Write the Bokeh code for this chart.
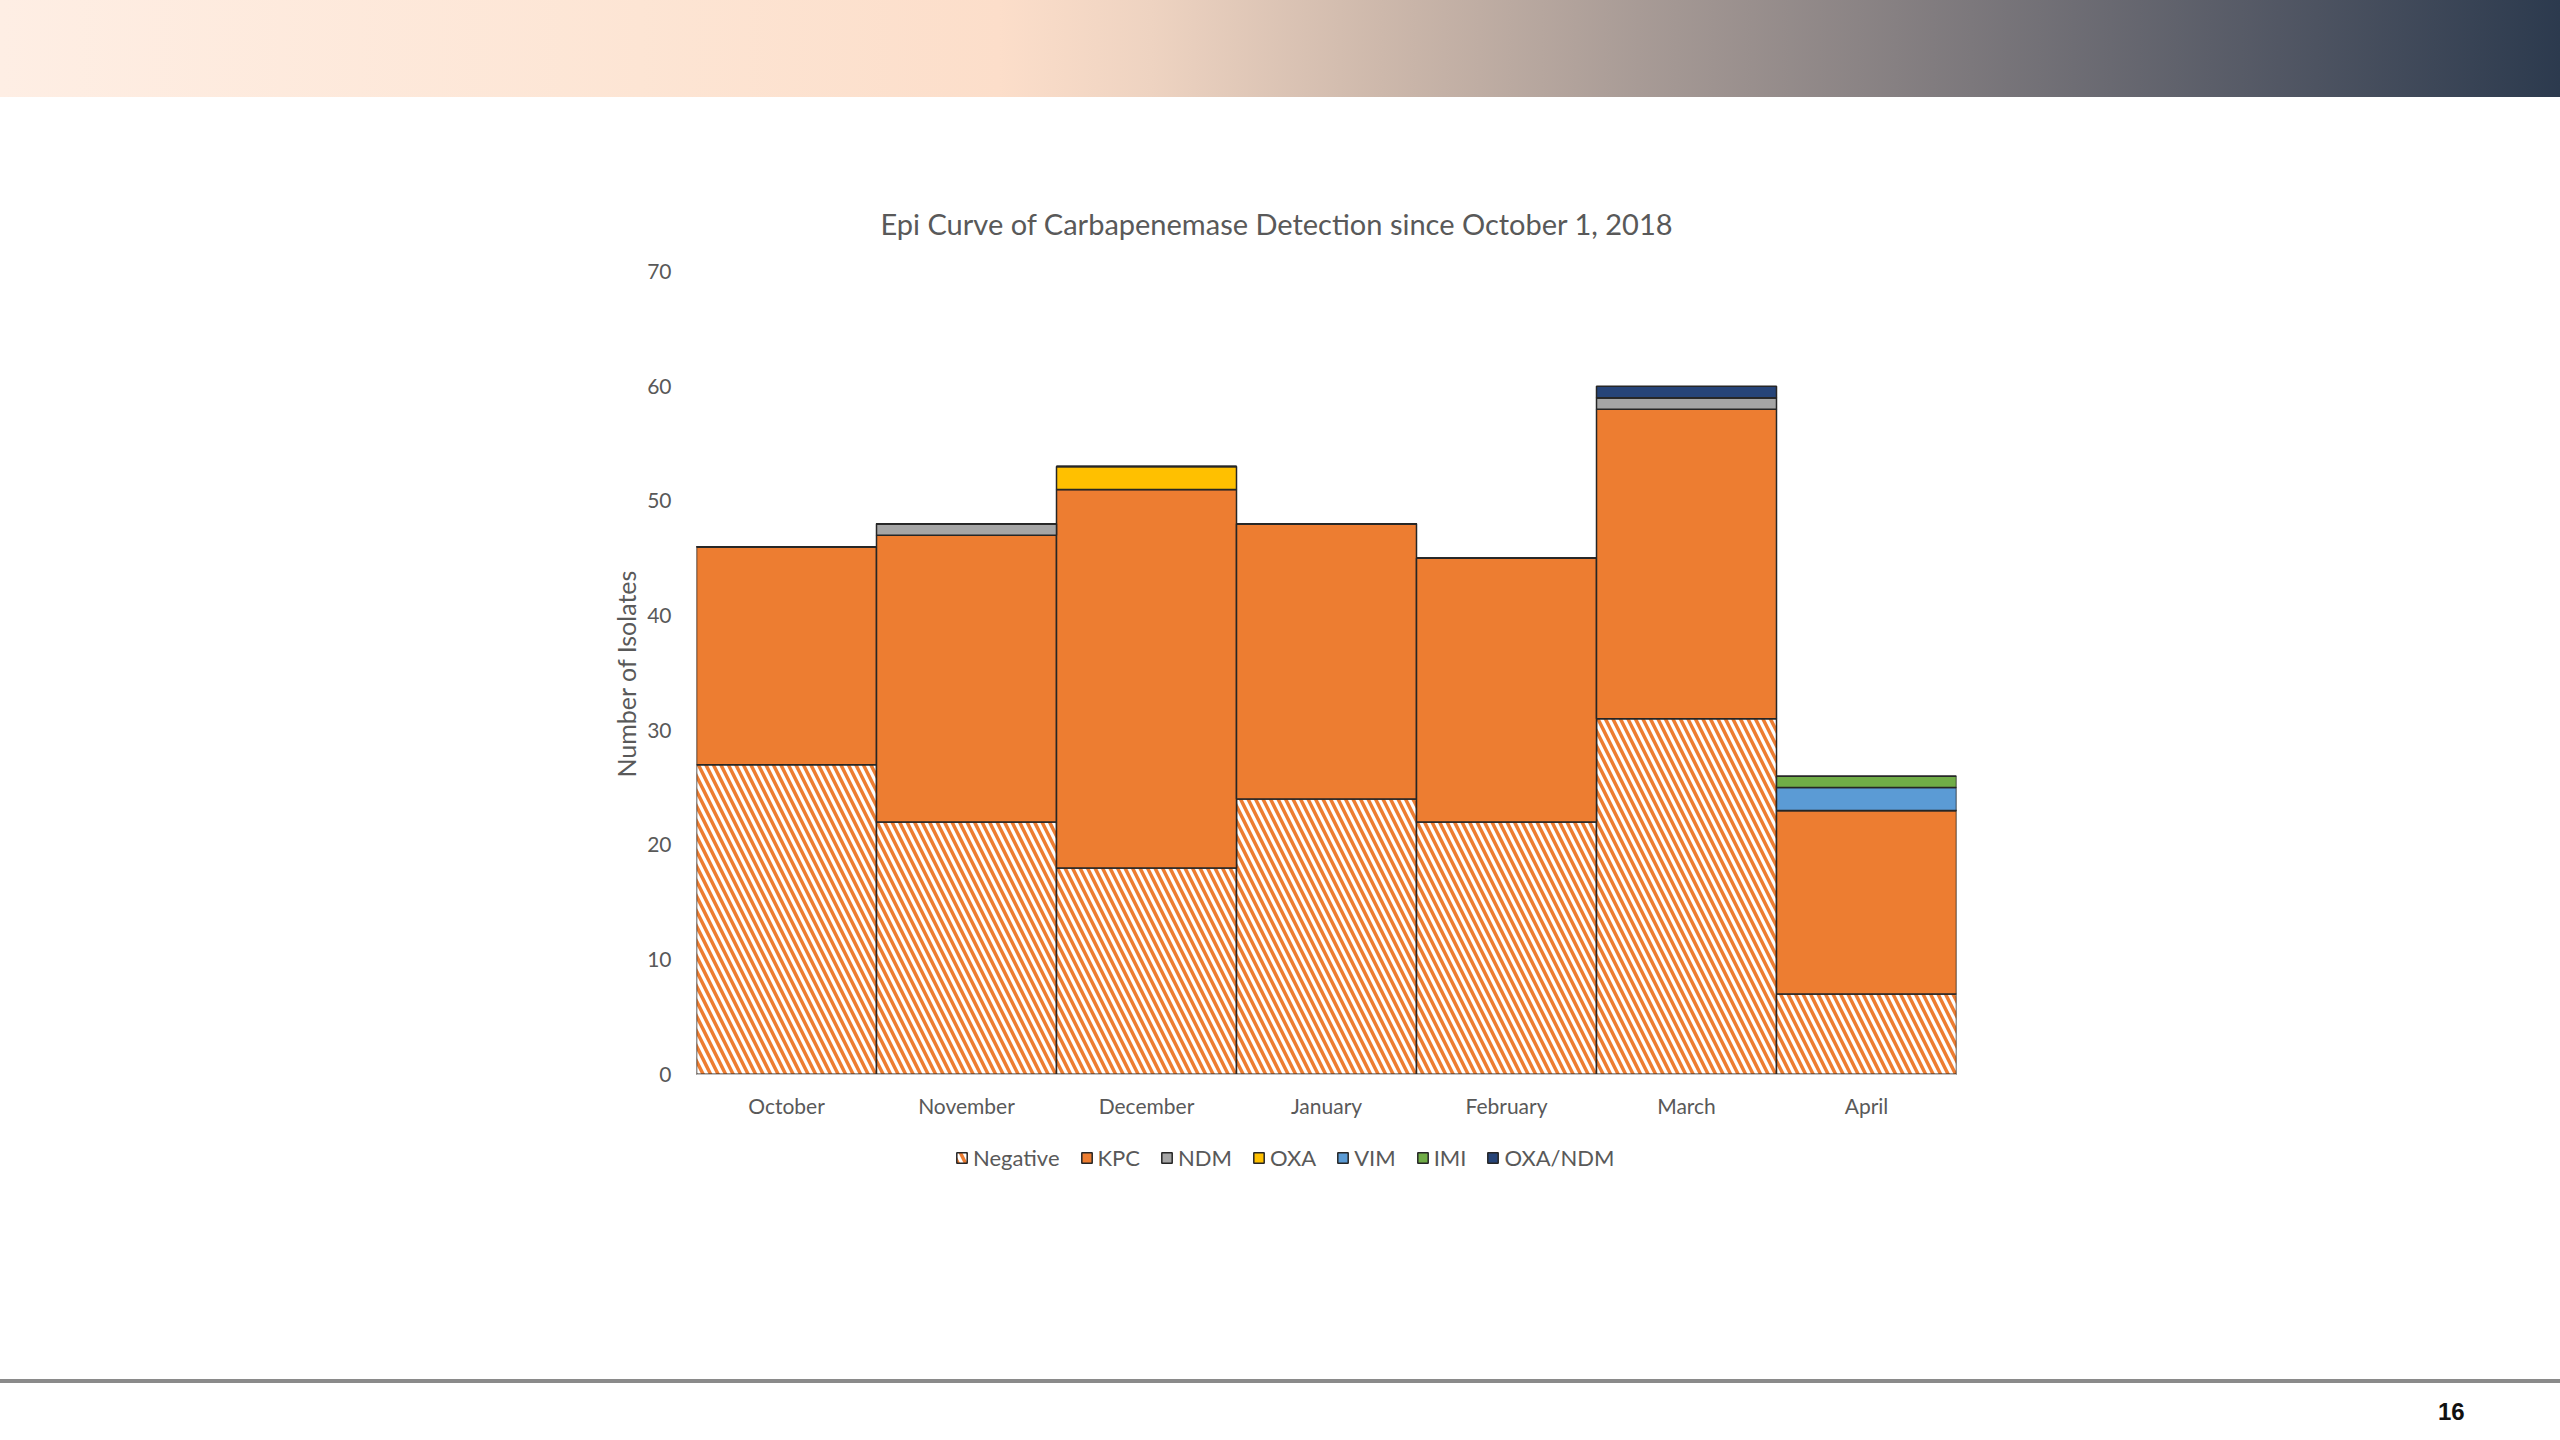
from bokeh.plotting import figure
from bokeh.models import Range1d, FactorRange, ColumnDataSource, FixedTicker, Div, Title
from bokeh.layouts import column
from bokeh.embed import file_html
from bokeh.resources import INLINE

# ---------------- data ----------------
months = ["October", "November", "December", "January", "February", "March", "April"]
negative = [27, 22, 18, 24, 22, 31, 7]
kpc = [19, 25, 33, 24, 23, 27, 16]
ndm = [0, 1, 0, 0, 0, 1, 0]
oxa = [0, 0, 2, 0, 0, 0, 0]
vim = [0, 0, 0, 0, 0, 0, 2]
imi = [0, 0, 0, 0, 0, 0, 1]
oxa_ndm = [0, 0, 0, 0, 0, 1, 0]
series_keys = ["negative", "kpc", "ndm", "oxa", "vim", "imi", "oxa_ndm"]
series_labels = ["Negative", "KPC", "NDM", "OXA", "VIM", "IMI", "OXA/NDM"]
y_ticks = [0, 10, 20, 30, 40, 50, 60, 70]
title_text = "Epi Curve of Carbapenemase Detection since October 1, 2018"
y_label = "Number of Isolates"
page_number = "16"

# ---------------- styles ----------------
FONT = "Lato"
TXT = "#595959"
fill_colors = ["white", "#ED7D31", "#A5A5A5", "#FFC000", "#5B9BD5", "#70AD47", "#264478"]
hatches = ["left_diagonal_line", " ", " ", " ", " ", " ", " "]

W = 2560
BANNER_H = 97
CHART_H = 1273
FOOT_H = 70

# ---------------- banner ----------------
gradient = ("linear-gradient(to right, #FEEEE4 0%, #FDE5D4 25%, #FCDECA 39%, #EED3C1 45%, "
            "#CDB8AB 54%, #A89B96 64%, #7C787C 77%, #525764 89%, #2C3A4E 100%)")
banner = Div(text="", width=W, height=BANNER_H,
             styles={"background": gradient, "margin": "0", "padding": "0"})

# ---------------- chart ----------------
src = ColumnDataSource(dict(month=months, negative=negative, kpc=kpc, ndm=ndm, oxa=oxa,
                            vim=vim, imi=imi, oxa_ndm=oxa_ndm))

# the frame extends below zero so that the legend can sit inside it
p = figure(width=W, height=CHART_H, x_range=FactorRange(*months, range_padding=0),
           y_range=Range1d(-11, 70), output_backend="svg", toolbar_location=None,
           min_border_left=696, min_border_right=604, min_border_top=174, min_border_bottom=170,
           title=title_text)
p.outline_line_color = None
p.grid.visible = False
p.background_fill_color = "white"
p.border_fill_color = "white"

p.title.align = "left"
p.title.offset = 184
p.title.standoff = 61
p.title.text_font = FONT
p.title.text_font_size = "29px"
p.title.text_font_style = "normal"
p.title.text_color = TXT

p.vbar_stack(series_keys, x="month", width=1.0, source=src,
             fill_color=fill_colors, hatch_pattern=hatches, hatch_color="#ED7D31",
             hatch_weight=3.5, hatch_scale=15,
             line_color="#262626", line_width=1.5, legend_label=series_labels)

p.yaxis.ticker = FixedTicker(ticks=y_ticks)
p.yaxis.axis_line_color = None
p.yaxis.major_tick_line_color = None
p.yaxis.minor_tick_line_color = None
p.yaxis.major_tick_out = 0
p.yaxis.major_tick_in = 0
p.yaxis.major_label_standoff = 25
p.yaxis.major_label_text_font = FONT
p.yaxis.major_label_text_font_size = "21px"
p.yaxis.major_label_text_color = TXT

ytitle = Title(text=y_label, align="left", offset=423, standoff=8,
               text_font=FONT, text_font_size="25px", text_font_style="normal", text_color=TXT)
p.add_layout(ytitle, "left")

p.xaxis.fixed_location = 0
p.xaxis.axis_line_color = "#BFBFBF"
p.xaxis.major_tick_line_color = None
p.xaxis.minor_tick_line_color = None
p.xaxis.major_tick_out = 0
p.xaxis.major_tick_in = 0
p.xaxis.major_label_standoff = 19
p.xaxis.major_label_text_font = FONT
p.xaxis.major_label_text_font_size = "21px"
p.xaxis.major_label_text_color = TXT

lg = p.legend[0]
lg.orientation = "horizontal"
lg.location = (259, 29)
lg.border_line_color = None
lg.background_fill_alpha = 0
lg.padding = 0
lg.margin = 0
lg.spacing = 20
lg.label_standoff = 5
lg.glyph_width = 13
lg.glyph_height = 13
lg.label_text_font = FONT
lg.label_text_font_size = "22px"
lg.label_text_color = TXT

# ---------------- footer ----------------
footer_html = (
    '<div style="position:relative;width:2560px;height:70px;margin:0;padding:0;">'
    '<div style="position:absolute;left:0;top:9px;width:2560px;height:4px;background:#8a8a8a;"></div>'
    '<div style="position:absolute;left:2438px;top:29px;font-family:\'Liberation Sans\';'
    'font-weight:bold;font-size:24px;line-height:26px;color:#111111;">' + page_number + '</div>'
    '</div>'
)
foot = Div(text=footer_html, width=W, height=FOOT_H, styles={"margin": "0", "padding": "0"})

layout = column(banner, p, foot, spacing=0)
open("out.html", "w").write(file_html(layout, INLINE))
